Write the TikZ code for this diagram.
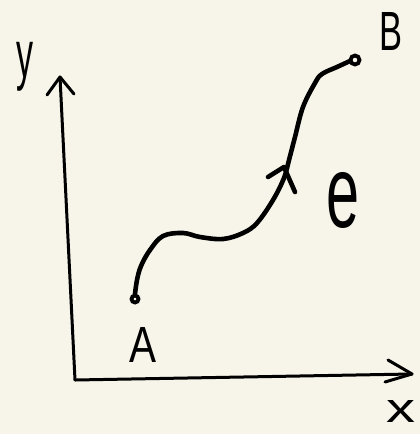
\documentclass[tikz,border=0pt]{standalone}
\usepackage{fontspec}
\setmainfont{Liberation Sans}
\begin{document}
\begin{tikzpicture}[x=1pt,y=-1pt,
  ink/.style={line width=4.6pt,line cap=round,line join=round,draw=black},
  axis/.style={line width=3pt,line cap=round,line join=round,draw=black},
  lbl/.style={inner sep=0pt}]
\fill[fill={rgb,255:red,247;green,245;blue,234}] (0,0) rectangle (420,434);
\useasboundingbox (0,0) rectangle (420,434);
% axes
\coordinate (O) at (75,380);
\coordinate (ytop) at (60,77);
\coordinate (xend) at (412,374);
\draw[axis] (O) -- (ytop);
\draw[axis] (47,95) -- (ytop) -- (74,94);
\draw[axis] (O) -- (xend);
\draw[axis] (388,360) -- (xend) -- (385,382);
% curve
\node[circle,draw,line width=3.8pt,inner sep=0pt,minimum size=7pt] (A) at (135,299) {};
\node[circle,draw,line width=3.8pt,inner sep=0pt,minimum size=9pt] (B) at (355,60) {};
\draw[ink] (A.north) plot[smooth,tension=0.6] coordinates {(135,294) (137,280) (141,266) (150,250) (163,236) (183,233) (200,237) (223,239) (243,233) (257,223) (273,200) (284,178) (289,160) (295,137) (303,107) (315,83) (322,74) (337,67) (350,61)};
\draw[ink] (268,177) -- (284,167) -- (295,192);
% labels
\node[lbl] (ylab) at (25,67) {\resizebox*{17pt}{49pt}{y}};
\node[lbl] (Blab) at (391,31) {\resizebox{23pt}{38pt}{B}};
\node[lbl] (Alab) at (143,345) {\resizebox{27pt}{35pt}{A}};
\node[lbl] (xlab) at (401,411) {\resizebox{29pt}{22pt}{x}};
\node[lbl] (elab) at (343,200) {\resizebox{33pt}{55pt}{e}};
\end{tikzpicture}
\end{document}
